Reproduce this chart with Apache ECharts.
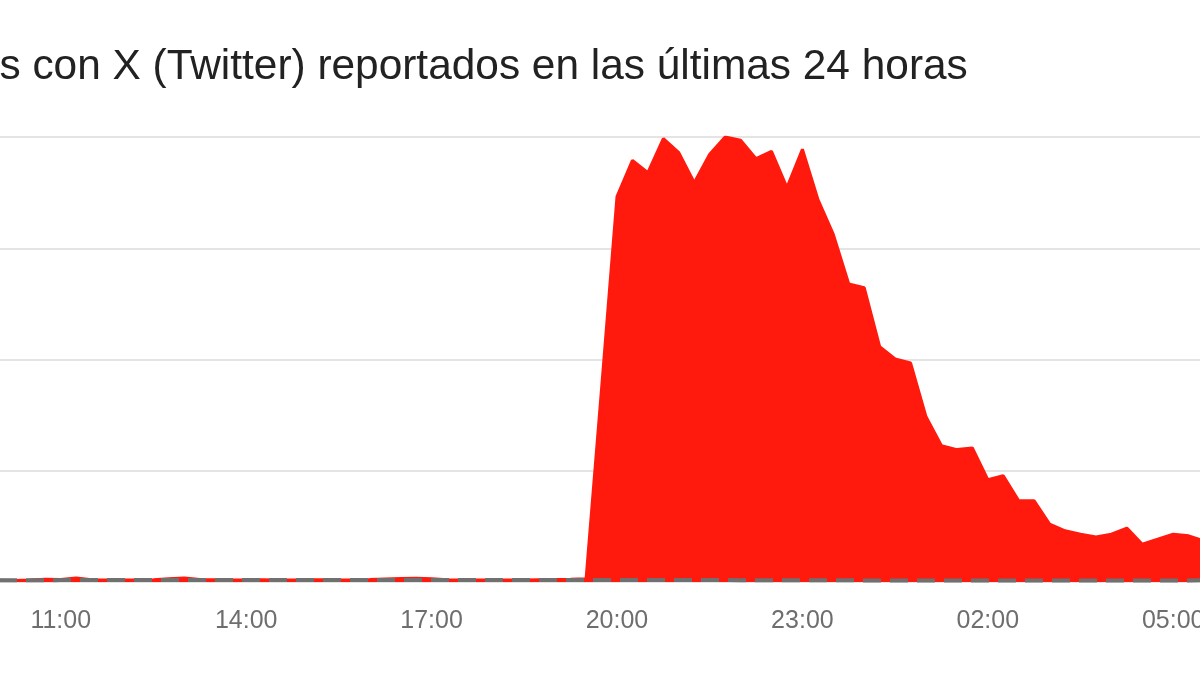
<!DOCTYPE html>
<html>
<head>
<meta charset="utf-8">
<script src="https://cdn.jsdelivr.net/npm/echarts@6/dist/echarts.min.js"></script>
<style>
html,body{margin:0;padding:0;background:#fff;}
#chart{width:1200px;height:675px;}
</style>
</head>
<body>
<div id="chart"></div>
<script>
// ---- data (15-minute samples) ----
const chartTitle = "Problemas con X (Twitter) reportados en las últimas 24 horas";
const timeLabels = [
  "10:00","10:15","10:30","10:45","11:00","11:15","11:30","11:45",
  "12:00","12:15","12:30","12:45","13:00","13:15","13:30","13:45",
  "14:00","14:15","14:30","14:45","15:00","15:15","15:30","15:45",
  "16:00","16:15","16:30","16:45","17:00","17:15","17:30","17:45",
  "18:00","18:15","18:30","18:45","19:00","19:15","19:30","19:45",
  "20:00","20:15","20:30","20:45","21:00","21:15","21:30","21:45",
  "22:00","22:15","22:30","22:45","23:00","23:15","23:30","23:45",
  "00:00","00:15","00:30","00:45","01:00","01:15","01:30","01:45",
  "02:00","02:15","02:30","02:45","03:00","03:15","03:30","03:45",
  "04:00","04:15","04:30","04:45","05:00","05:15","05:30"
];
const reports = [
  30,28,35,50,45,70,40,35,
  38,35,42,60,72,45,40,38,
  36,40,38,35,40,42,38,40,
  45,55,65,68,60,40,35,38,
  36,38,35,40,45,50,60,3470,
  6930,7580,7360,7970,7720,7180,7690,8000,
  7940,7610,7740,7090,7780,6880,6250,5360,
  5290,4230,4010,3940,2970,2450,2380,2410,
  1840,1910,1460,1460,1040,920,860,810,
  860,970,680,770,860,830,740
];
const baseline = [
  32,32,33,33,34,34,35,35,
  35,35,36,36,36,36,36,36,
  36,36,36,36,36,36,36,36,
  36,36,36,36,36,36,36,36,
  35,35,35,35,35,35,35,35,
  35,35,35,35,34,34,34,34,
  33,33,32,32,31,31,30,30,
  29,29,28,28,27,27,26,26,
  26,26,26,26,26,26,26,26,
  27,27,28,28,29,29,30
];
const tickHours = ["11:00","14:00","17:00","20:00","23:00","02:00","05:00"];
const yTicks = [0, 2000, 4000, 6000, 8000];

// ---- helpers: clock labels -> minutes on a continuous axis ----
function toMinutes(labels) {
  const out = [];
  let dayOffset = 0, prev = -1;
  labels.forEach(function (s) {
    const p = s.split(":");
    let m = parseInt(p[0], 10) * 60 + parseInt(p[1], 10);
    if (m + dayOffset < prev) dayOffset += 1440;
    m += dayOffset;
    out.push(m);
    prev = m;
  });
  return out;
}
const xs = toMinutes(timeLabels);
const tickXs = toMinutes(tickHours);
const reportData = xs.map(function (x, i) { return [x, reports[i]]; });
const baselineData = xs.map(function (x, i) { return [x, baseline[i]]; });

const chart = echarts.init(document.getElementById('chart'), null, {renderer: 'canvas'});
chart.setOption({
  backgroundColor: '#ffffff',
  animation: false,
  title: {
    text: chartTitle,
    left: -187,
    top: 41,
    textStyle: {
      fontFamily: 'Liberation Sans, Arial, sans-serif',
      fontSize: 42.4,
      fontWeight: 'normal',
      color: '#222222'
    }
  },
  grid: {left: 0, right: 0, top: 137, bottom: 93, containLabel: false, outerBoundsMode: 'none'},
  xAxis: {
    type: 'value',
    min: 601,
    max: 1766,
    axisLine: {show: false},
    axisTick: {show: false},
    splitLine: {show: false},
    axisLabel: {
      customValues: tickXs,
      margin: 27,
      fontFamily: 'Liberation Sans, Arial, sans-serif',
      fontSize: 25,
      color: '#6e6e6e',
      formatter: function (v) {
        const h = Math.floor(v / 60) % 24;
        return (h < 10 ? '0' : '') + h + ':00';
      }
    }
  },
  yAxis: {
    type: 'value',
    min: yTicks[0],
    max: yTicks[yTicks.length - 1],
    interval: yTicks[1] - yTicks[0],
    axisLine: {show: false},
    axisTick: {show: false},
    axisLabel: {show: false},
    splitLine: {lineStyle: {color: '#e4e4e4', width: 2}}
  },
  series: [
    {
      name: 'Reportes',
      type: 'line',
      data: reportData,
      symbol: 'none',
      smooth: false,
      lineStyle: {color: '#ff1a0d', width: 3},
      areaStyle: {color: '#ff1a0d', opacity: 1},
      z: 2
    },
    {
      name: 'Referencia',
      type: 'line',
      data: baselineData,
      symbol: 'none',
      smooth: false,
      lineStyle: {color: '#707070', width: 4, type: [18, 9]},
      z: 3
    }
  ]
});
</script>
</body>
</html>
